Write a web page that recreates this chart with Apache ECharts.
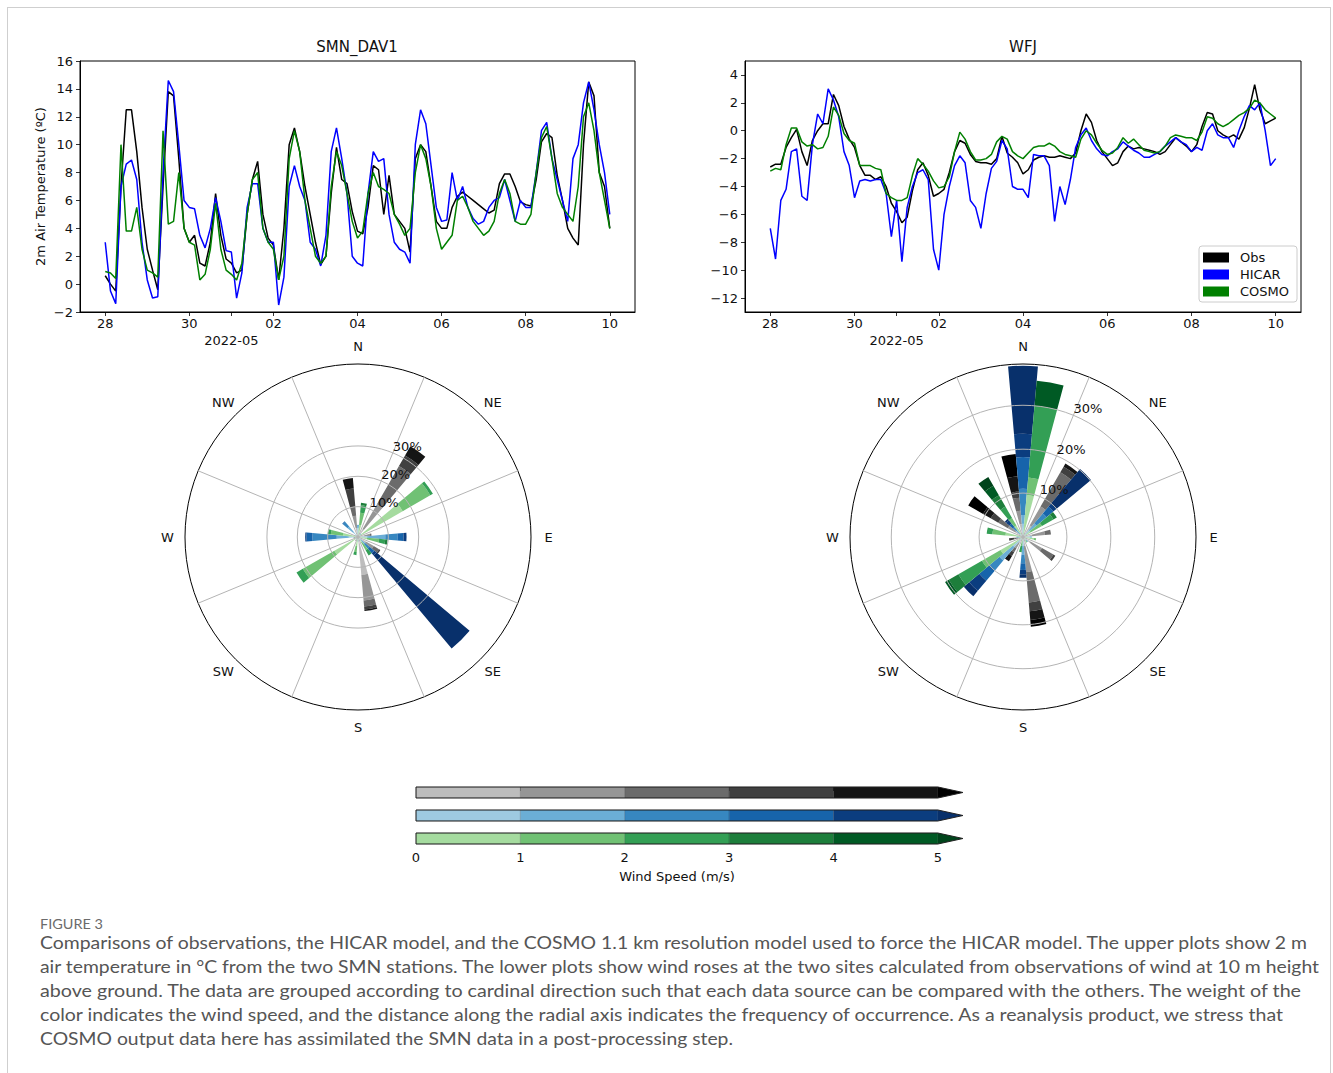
<!DOCTYPE html>
<html><head><meta charset="utf-8">
<script src="https://cdn.jsdelivr.net/npm/echarts@6/dist/echarts.min.js"></script>
<style>
html,body{margin:0;padding:0;background:#fff;width:1333px;height:1073px;overflow:hidden;}
#frame{position:absolute;left:7px;top:7px;width:1322px;height:1200px;border:1px solid #cfcfcf;}
#chart{position:absolute;left:0;top:0;width:1333px;height:905px;}
.fig{position:absolute;left:40px;top:916px;font:13px Lato, sans-serif;color:#6b6b6b;white-space:nowrap;transform-origin:0 50%;line-height:16px;}
.ln{position:absolute;left:40px;font:17.5px Lato, sans-serif;line-height:24px;color:#555;white-space:nowrap;transform-origin:0 50%;}
</style></head><body>
<div id="frame"></div>
<div id="chart"></div>
<div class="fig" data-w="63">FIGURE 3</div>
<div class="ln" data-w="1267" style="top:931px">Comparisons of observations, the HICAR model, and the COSMO 1.1 km resolution model used to force the HICAR model. The upper plots show 2 m</div>
<div class="ln" data-w="1279" style="top:955px">air temperature in °C from the two SMN stations. The lower plots show wind roses at the two sites calculated from observations of wind at 10 m height</div>
<div class="ln" data-w="1261" style="top:979px">above ground. The data are grouped according to cardinal direction such that each data source can be compared with the others. The weight of the</div>
<div class="ln" data-w="1243" style="top:1003px">color indicates the wind speed, and the distance along the radial axis indicates the frequency of occurrence. As a reanalysis product, we stress that</div>
<div class="ln" data-w="693" style="top:1027px">COSMO output data here has assimilated the SMN data in a post-processing step.</div>
<script>
// ---------------- data ----------------
const seriesNames = ['Obs', 'HICAR', 'COSMO'];
const xTickHours = [0, 48, 96, 144, 192, 240, 288];
const xTickLabels = ['28', '30', '02', '04', '06', '08', '10'];
const monthTickHour = 72;
const monthLabel = '2022-05';
const wfjYTicks = [-12, -10, -8, -6, -4, -2, 0, 2, 4];
const sampleStepHours = 3;

// SMN_DAV1 2 m air temperature, 3-hourly from 2022-04-28 00:00
const davObs = [
  0.6, 0, -0.5, 7, 12.5, 12.5, 9.5, 5.5,
  2.5, 1, -0.4, 7, 13.8, 13.5, 9, 4,
  3, 3.5, 1.5, 1.3, 3, 6.5, 3.5, 1.8,
  1.5, 0.8, 1, 5, 7.5, 8.8, 5, 3.3,
  2.8, 0.3, 4, 10, 11.2, 9.5, 7, 5,
  3, 1.4, 2, 6.5, 9.8, 7.5, 7.2, 5.2,
  3.8, 3.6, 5.5, 8.5, 8.2, 5, 7.8, 5,
  4.5, 4, 2.3, 9, 10, 9.5, 7, 4.5,
  4, 4, 5.5, 6.3, 6.6, 6.3, 6, 5.7,
  5.4, 5.1, 5.3, 7.2, 7.9, 7.9, 7, 5.9,
  5.7, 5.6, 7.5, 10.2, 10.8, 10.5, 7.8, 6,
  4, 3.3, 2.8, 10, 14.5, 13.5, 8, 7,
  4
];
const davHicar = [
  3, -0.5, -1.4, 7, 8.6, 8.9, 7.5, 3,
  0.3, -1, -0.9, 8, 14.6, 13.8, 10, 6,
  5.5, 5.4, 3.5, 2.6, 4, 6.2, 4.5, 2.4,
  2.3, -1, 0.8, 5.5, 7.2, 7.2, 4, 3,
  3, -1.5, 0.5, 7, 8.5, 7, 6, 3,
  2.5, 1.3, 3.5, 9.5, 11.2, 9, 6.5, 2,
  1.5, 1.3, 6.5, 9.5, 8.8, 9, 5, 3,
  2.5, 2.3, 1.5, 10, 12.5, 11.5, 8.5, 5.5,
  4.5, 4.6, 8, 6, 7, 5.5, 4.7, 4.3,
  4.5, 5.5, 6, 6.2, 7.5, 6, 4.5, 6,
  5.5, 5.5, 8, 11, 11.6, 9, 7.5, 6,
  4.5, 9, 10, 13, 14.5, 12.5, 10, 8,
  5
];
const davCosmo = [
  0.9, 0.8, 0.4, 10, 3.8, 3.8, 5.5, 2.5,
  1, 0.8, 0.5, 11, 4.3, 4.5, 8, 4,
  3, 2.8, 0.3, 0.7, 2.5, 5.8, 2.5, 1,
  0.7, 0.3, 1.5, 5, 7.5, 8, 4, 3,
  2.5, 0.3, 2, 9, 11, 9.5, 6, 4,
  2, 1.5, 2, 7, 9.5, 8.5, 6.5, 4.5,
  3.3, 3.8, 6.5, 8, 7, 6.8, 6.5, 5,
  4.3, 3.5, 4, 8, 10, 9, 7, 4,
  2.5, 3, 3.5, 6, 6.3, 5.5, 4.5, 4,
  3.5, 3.8, 4.5, 6.5, 7.5, 6.5, 4.5, 4.3,
  4.3, 5, 8, 10.5, 11.3, 9, 6.5, 5.5,
  5, 4.5, 7, 12, 13, 11, 8, 6,
  4
];
// WFJ 2 m air temperature, 3-hourly from 2022-04-28 00:00
const wfjObs = [
  -2.6, -2.4, -2.4, -1.2, -0.5, 0.1, -1.5, -2.5,
  -0.7, 0, 0.5, 0.5, 2.6, 1.8, 0.3, -0.6,
  -1.2, -2.5, -3.2, -3.2, -3.5, -3.3, -4, -5.2,
  -5.8, -6.6, -6.2, -4.3, -2.8, -2.3, -3.2, -4.7,
  -4.5, -4.2, -3, -1.5, -0.7, -0.9, -1.7, -2.2,
  -2.3, -2.3, -2.4, -2, -0.4, -1.6, -1.9, -2.3,
  -3.1, -2.8, -2.1, -1.9, -1.8, -1.9, -1.9, -1.8,
  -1.9, -2, -1.6, 0, 1.2, 0.6, -0.7, -1.5,
  -2, -2.5, -2.3, -1.5, -1.1, -1.3, -1.2, -1.3,
  -1.4, -1.5, -1.7, -1.5, -1, -0.5, -0.8, -1.1,
  -1.5, -1, 0.3, 1.3, 1.2, 0, -0.3, -0.5,
  -0.3, -0.6, 0.2, 1.6, 3.3, 1.5, 0.5, 0.7,
  0.9
];
const wfjHicar = [
  -7, -9.2, -5, -4.2, -1.5, -1.3, -4.7, -5,
  -1, 1.2, 0.5, 3, 2.2, 1, -1.5, -2.5,
  -4.8, -3.6, -3.5, -3.6, -3.5, -3.5, -4.5, -7.6,
  -5, -9.4, -5.5, -4, -3, -2.8, -3.5, -8.5,
  -10, -6, -4, -2.5, -1.8, -2.3, -5, -5.5,
  -7, -4.5, -2.7, -2.2, -0.7, -1.3, -4, -4.2,
  -4.2, -4.8, -1.7, -1.8, -1.8, -2.5, -6.5, -4,
  -5.3, -3.5, -1.2, -0.3, 0.2, -0.7, -1.3, -1.7,
  -1.8, -1.5, -1.3, -0.8, -1.1, -1.4, -1.6, -1.9,
  -1.9, -1.7, -1.5, -1.1, -0.8, -0.5, -0.8, -1,
  -1.5, -1.2, -1.4, 0, 0.5, -0.3, -0.5, -0.5,
  -1.2, 0, 1, 1.8, 1.5, 2, 0, -2.5,
  -2
];
const wfjCosmo = [
  -2.9, -2.7, -2.8, -1, 0.2, 0.2, -0.8, -1.1,
  -1, -1.3, -1.2, -0.4, 1.7, 1.1, -0.2, -0.7,
  -0.9, -2.5, -2.5, -2.5, -2.7, -2.8, -4.5, -4.8,
  -5, -5, -4.8, -3.2, -2, -2.4, -2.9, -3.6,
  -4.1, -4, -3.3, -1.5, -0.1, -0.6, -1.5, -2.1,
  -2.1, -2, -1.7, -0.8, -0.4, -0.6, -1.5, -1.8,
  -2, -1.6, -1.2, -1.1, -1.1, -0.9, -1.1, -1.5,
  -1.7, -1.8, -1.9, -0.6, 0, -0.3, -0.9, -1.4,
  -1.7, -1.6, -1.2, -0.5, -0.9, -0.6, -1, -1.4,
  -1.5, -1.6, -1.5, -1.1, -0.5, -0.3, -0.4, -0.5,
  -0.5, -0.7, -0.1, 1, 0.9, 0.5, 0.3, 0.5,
  0.8, 1.1, 1.3, 1.6, 2.2, 2, 1.5, 1.2,
  0.9
];

// wind roses: frequency (%) per direction, per speed bin [0-1,1-2,2-3,3-4,4-5,>5 m/s]
const directions = ['N', 'NE', 'E', 'SE', 'S', 'SW', 'W', 'NW'];
const dirAngles = [0, 45, 90, 135, 180, 225, 270, 315];
const speedTicks = [0, 1, 2, 3, 4, 5];
const ringValues = [10, 20, 30];
const spokeAngles = [22.5, 67.5, 112.5, 157.5, 202.5, 247.5, 292.5, 337.5];

const roseDavObs = [
  [3, 4, 3, 6, 3.5, 0],
  [3, 9.5, 14.5, 4, 3.5, 0],
  [2, 2, 0.5, 0, 0, 0],
  [3, 3, 2, 0.5, 0, 0],
  [12.5, 8.5, 2, 1, 0.5, 0],
  [1, 0.5, 0, 0, 0, 0],
  [0.5, 0.5, 0.5, 0, 0, 0],
  [0.5, 0.5, 0, 0, 0, 0]
];
const roseDavHicar = [
  [3, 1, 0, 0, 0, 0],
  [1, 0.5, 0, 0, 0, 0],
  [3, 6, 4, 2, 1, 0],
  [1, 2, 2, 2, 1, 40],
  [1, 0.5, 0, 0, 0, 0],
  [0.5, 0.5, 0, 0, 0, 0],
  [3, 4, 8, 2, 0.4, 0],
  [2, 2.5, 2, 0.3, 0, 0]
];
const roseDavCosmo = [
  [4, 4, 2.5, 0.8, 0, 0],
  [17, 10.5, 1, 0, 0, 0],
  [3, 4, 2, 0.8, 0, 0],
  [2, 3, 2, 0, 0, 0],
  [3, 2, 1, 0, 0, 0],
  [9, 12, 2.4, 0, 0, 0],
  [5, 4, 1, 0, 0, 0],
  [0.5, 0.3, 0, 0, 0, 0]
];
const roseWfjObs = [
  [3, 3, 3, 1.4, 3.5, 5.1],
  [3, 5, 9, 1.5, 0.8, 0],
  [2, 3, 1.4, 0, 0, 0],
  [2, 3, 3, 0.5, 0, 0],
  [2, 6, 7, 2, 2, 1.5],
  [1.5, 1.5, 1, 1, 1.4, 0],
  [0.5, 0.5, 1, 1.2, 0, 0],
  [2, 2, 2.5, 2, 2, 3.9]
];
const roseWfjHicar = [
  [3, 2, 6, 7.2, 5.3, 15.5],
  [2, 2, 3, 2, 1, 10.2],
  [1.5, 0.5, 0, 0, 0, 0],
  [1, 0.5, 0, 0, 0, 0],
  [2, 2, 2, 1.5, 1, 0.8],
  [3, 4, 3, 3, 3, 1.6],
  [1, 0.5, 0, 0, 0, 0],
  [1, 1, 1, 1, 1, 0.4]
];
const roseWfjCosmo = [
  [9.6, 4, 16.4, 0, 5.7, 0],
  [2, 3, 3, 0.9, 0, 0],
  [2.5, 0.5, 0, 0, 0, 0],
  [1, 0.5, 0, 0, 0, 0],
  [1, 1, 1.5, 0, 0, 0],
  [5.9, 4.9, 6.2, 2.5, 1, 0],
  [4, 3, 1.3, 0, 0, 0],
  [3, 2, 3, 3, 2.5, 2.3]
];

// ---------------- styles / layout ----------------
const FONT = 'DejaVu Sans';
const TXT = '#111';
const LINE_COLORS = ['#000000', '#0000ff', '#008000'];
const GREY = ['#bdbdbd', '#969696', '#6b6b6b', '#404040', '#151515', '#000000'];
const BLUE = ['#9ecae1', '#6baed6', '#3787c0', '#1764ab', '#0b3d7f', '#08306b'];
const GREEN = ['#a5db9f', '#70c174', '#339f55', '#1d7e3b', '#005a24', '#00441b'];
const PAL = [GREY, BLUE, GREEN];
const SRC_OFFSET = [-10, 0, 10];
const BAR_W = 10;
const DAV_RMAX = 57;
const WFJ_RMAX = 39.4;
const LABEL_PAD = 17.5;
const CB_ROW_H = 0.478;
const CB_TIP = 5.24;

const minus = v => (v < 0 ? '\u2212' + Math.abs(v) : String(v));
const toPairs = arr => arr.map((v, i) => [i * sampleStepHours, v]);

function lineSeries(name, data, idx, color) {
  return { type: 'line', name, xAxisIndex: idx, yAxisIndex: idx, data: toPairs(data),
    showSymbol: false, symbol: 'none', lineStyle: { color, width: 1.5 }, itemStyle: { color }, z: 2 };
}
function timeAxis(gi) {
  const vals = xTickHours.concat([monthTickHour]);
  return { type: 'value', gridIndex: gi, min: -14.4, max: 302.4,
    axisLine: { show: true, onZero: false, lineStyle: { color: '#000', width: 1 } },
    axisTick: { show: true, customValues: vals, length: 4, lineStyle: { color: '#000', width: 0.8 } },
    axisLabel: { show: true, customValues: vals, margin: 3, color: TXT, fontSize: 13, fontFamily: FONT, lineHeight: 17,
      formatter: v => { if (v === monthTickHour) return '\n' + monthLabel; const i = xTickHours.indexOf(v); return i >= 0 ? xTickLabels[i] : ''; } },
    splitLine: { show: false } };
}
function yAxisBase(gi) {
  return { type: 'value', gridIndex: gi,
    axisLine: { show: true, onZero: false, lineStyle: { color: '#000', width: 1 } },
    axisTick: { show: true, length: 4, lineStyle: { color: '#000', width: 0.8 } },
    axisLabel: { margin: 7, color: TXT, fontSize: 13, fontFamily: FONT, formatter: minus },
    splitLine: { show: false } };
}

function buildRose(sets) {
  const out = [];
  sets.forEach((set, s) => set.forEach((bins, d) => {
    let acc = 0;
    bins.forEach((v, b) => {
      if (v > 0) out.push([acc + v, (dirAngles[d] + SRC_OFFSET[s] + 360) % 360, acc, s, b]);
      acc += v;
    });
  }));
  return out;
}
function scrAngle(api, cx, cy, a) { const p = api.coord([1, a]); return Math.atan2(p[1] - cy, p[0] - cx); }
function pixR(api, cx, cy, r, a) { const p = api.coord([r, a]); return Math.hypot(p[0] - cx, p[1] - cy); }

function renderBar(params, api) {
  const cs = params.coordSys, cx = cs.cx, cy = cs.cy;
  const a = api.value(1);
  let s0 = scrAngle(api, cx, cy, a - BAR_W / 2), s1 = scrAngle(api, cx, cy, a + BAR_W / 2);
  if (s1 < s0) s1 += 2 * Math.PI;
  return { type: 'sector', shape: { cx, cy, r0: pixR(api, cx, cy, api.value(2), a), r: pixR(api, cx, cy, api.value(0), a),
    startAngle: s0, endAngle: s1, clockwise: true }, style: { fill: PAL[api.value(3)][api.value(4)] } };
}
function renderRing(params, api) {
  const cs = params.coordSys;
  const v = api.value(0);
  const r = pixR(api, cs.cx, cs.cy, v, 0);
  const lp = api.coord([v, api.value(1)]);
  return { type: 'group', children: [
    { type: 'circle', shape: { cx: cs.cx, cy: cs.cy, r }, style: { fill: 'none', stroke: '#b4b4b4', lineWidth: 1 } },
    { type: 'text', x: lp[0], y: lp[1], z2: 10, style: { text: v + '%', fill: TXT, fontSize: 13, fontFamily: FONT, align: 'left', verticalAlign: 'bottom' } }
  ] };
}
function renderSpoke(params, api) {
  const cs = params.coordSys;
  const p = api.coord([api.value(0), api.value(1)]);
  return { type: 'line', shape: { x1: cs.cx, y1: cs.cy, x2: p[0], y2: p[1] }, style: { stroke: '#b4b4b4', lineWidth: 1 } };
}
function renderDirLabel(params, api) {
  const cs = params.coordSys;
  const p = api.coord([api.value(0), api.value(1)]);
  const dx = p[0] - cs.cx, dy = p[1] - cs.cy, d = Math.hypot(dx, dy);
  const k = (d + LABEL_PAD) / d;
  return { type: 'text', x: cs.cx + dx * k, y: cs.cy + dy * k,
    style: { text: directions[api.value(2)], fill: TXT, fontSize: 13, fontFamily: FONT, align: 'center', verticalAlign: 'middle' } };
}
function roseSeries(pi, rmax, sets) {
  return [
    { type: 'custom', coordinateSystem: 'polar', polarIndex: pi, renderItem: renderBar, data: buildRose(sets), encode: { radius: 0, angle: 1 }, silent: true, z: 2 },
    { type: 'custom', coordinateSystem: 'polar', polarIndex: pi, renderItem: renderSpoke, data: spokeAngles.map(a => [rmax, a]), encode: { radius: 0, angle: 1 }, silent: true, z: 3 },
    { type: 'custom', coordinateSystem: 'polar', polarIndex: pi, renderItem: renderRing, data: ringValues.map(v => [v, 22.5]), encode: { radius: 0, angle: 1 }, silent: true, z: 4 },
    { type: 'custom', coordinateSystem: 'polar', polarIndex: pi, renderItem: renderDirLabel, data: dirAngles.map((a, i) => [rmax, a, i]), encode: { radius: 0, angle: 1 }, silent: true, z: 4 }
  ];
}
function renderCbar(params, api) {
  const k = api.value(0), row = api.value(1);
  const pal = PAL[row];
  const y0 = row, y1 = row + CB_ROW_H;
  if (k < 5) {
    const p0 = api.coord([k, y0]), p1 = api.coord([k + 1, y1]);
    return { type: 'rect', shape: { x: p0[0], y: p0[1], width: p1[0] - p0[0], height: p1[1] - p0[1] },
      style: { fill: pal[k], stroke: 'rgba(0,0,0,0.22)', lineWidth: 0.6 } };
  }
  const a = api.coord([5, y0]), b = api.coord([CB_TIP, (y0 + y1) / 2]), c = api.coord([5, y1]), d = api.coord([0, y1]), e = api.coord([0, y0]);
  return { type: 'group', children: [
    { type: 'polygon', shape: { points: [a, b, c] }, style: { fill: pal[5] } },
    { type: 'polygon', shape: { points: [e, a, b, c, d] }, style: { fill: 'none', stroke: '#222', lineWidth: 1 } }
  ] };
}
const cbData = [];
PAL.forEach((p, r) => speedTicks.forEach(k => cbData.push([k, r])));

const polarAngle = pi => ({ polarIndex: pi, type: 'value', min: 0, max: 360, startAngle: 90, clockwise: true,
  axisLine: { show: true, lineStyle: { color: '#000', width: 1 } }, axisTick: { show: false }, axisLabel: { show: false }, splitLine: { show: false } });
const polarRadius = (pi, rmax) => ({ polarIndex: pi, type: 'value', min: 0, max: rmax,
  axisLine: { show: false }, axisTick: { show: false }, axisLabel: { show: false }, splitLine: { show: false } });

const titleStyle = { fontSize: 15, fontWeight: 'normal', fontFamily: FONT, color: TXT };

const option = {
  animation: false,
  backgroundColor: 'transparent',
  title: [
    { text: 'SMN_DAV1', left: 357, top: 39, textAlign: 'center', padding: 0, textStyle: titleStyle },
    { text: 'WFJ', left: 1023, top: 39, textAlign: 'center', padding: 0, textStyle: titleStyle },
    { text: 'Wind Speed (m/s)', left: 677, top: 870, textAlign: 'center', padding: 0, textStyle: Object.assign({}, titleStyle, { fontSize: 13 }) }
  ],
  legend: { data: seriesNames, orient: 'vertical', left: 1199, top: 246, icon: 'rect', itemWidth: 26, itemHeight: 10, itemGap: 4,
    padding: [5, 8, 4, 4], backgroundColor: '#fff', borderColor: '#cccccc', borderWidth: 1, borderRadius: 3, selectedMode: false,
    textStyle: { fontSize: 13, fontFamily: FONT, color: TXT, padding: [0, 0, 0, 6] } },
  grid: [
    { left: 80, top: 61, width: 555, height: 251, show: true, borderColor: '#000', borderWidth: 1, backgroundColor: 'transparent' },
    { left: 745, top: 61, width: 556, height: 251, show: true, borderColor: '#000', borderWidth: 1, backgroundColor: 'transparent' },
    { left: 416, top: 787, width: 548, height: 57 }
  ],
  xAxis: [
    timeAxis(0), timeAxis(1),
    { type: 'value', gridIndex: 2, min: 0, max: 5.25, axisLine: { show: false },
      axisTick: { show: true, customValues: speedTicks, length: 4, lineStyle: { color: '#000', width: 0.8 } },
      axisLabel: { customValues: speedTicks, margin: 7, color: TXT, fontSize: 13, fontFamily: FONT }, splitLine: { show: false } }
  ],
  yAxis: [
    Object.assign(yAxisBase(0), { min: -2, max: 16, interval: 2, name: '2m Air Temperature (ºC)', nameLocation: 'middle', nameGap: 33,
      nameTextStyle: { fontSize: 13, fontFamily: FONT, color: TXT } }),
    (() => { const y = yAxisBase(1); y.min = -13; y.max = 5; y.axisTick.customValues = wfjYTicks; y.axisLabel.customValues = wfjYTicks; return y; })(),
    { type: 'value', gridIndex: 2, min: 0, max: 2.478, inverse: true, show: false }
  ],
  polar: [{ center: [358, 537], radius: 173 }, { center: [1023, 537], radius: 173 }],
  angleAxis: [polarAngle(0), polarAngle(1)],
  radiusAxis: [polarRadius(0, DAV_RMAX), polarRadius(1, WFJ_RMAX)],
  series: [
    lineSeries('Obs', davObs, 0, LINE_COLORS[0]),
    lineSeries('HICAR', davHicar, 0, LINE_COLORS[1]),
    lineSeries('COSMO', davCosmo, 0, LINE_COLORS[2]),
    lineSeries('Obs', wfjObs, 1, LINE_COLORS[0]),
    lineSeries('HICAR', wfjHicar, 1, LINE_COLORS[1]),
    lineSeries('COSMO', wfjCosmo, 1, LINE_COLORS[2]),
    ...roseSeries(0, DAV_RMAX, [roseDavObs, roseDavHicar, roseDavCosmo]),
    ...roseSeries(1, WFJ_RMAX, [roseWfjObs, roseWfjHicar, roseWfjCosmo]),
    { type: 'custom', xAxisIndex: 2, yAxisIndex: 2, renderItem: renderCbar, data: cbData, encode: { x: 0, y: 1 }, silent: true, z: 2 }
  ]
};

const chart = echarts.init(document.getElementById('chart'), null, { renderer: 'svg' });
chart.setOption(option);

function fitCaption() {
  document.querySelectorAll('.ln, .fig').forEach(el => {
    el.style.transform = 'none';
    const w = el.getBoundingClientRect().width;
    const t = parseFloat(el.dataset.w);
    if (w > 0) el.style.transform = 'scaleX(' + (t / w) + ')';
  });
}
fitCaption();
if (document.fonts && document.fonts.ready) document.fonts.ready.then(fitCaption);
</script>
</body></html>
